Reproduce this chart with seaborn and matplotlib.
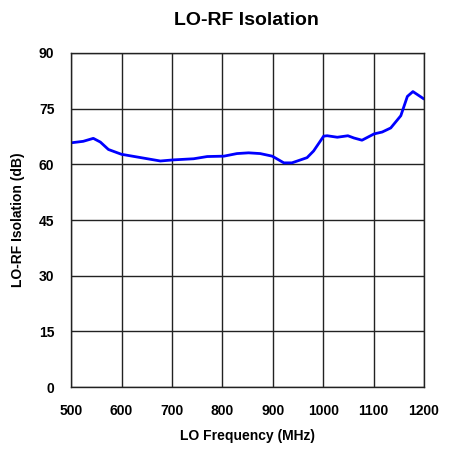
import matplotlib
matplotlib.use("Agg")
import matplotlib.pyplot as plt
import seaborn as sns
import pandas as pd

freq_mhz = [500, 524, 544, 558, 574, 600, 630, 677, 703, 743, 770, 803, 829, 852, 875,
            899, 922, 938, 968, 981, 1001, 1008, 1028, 1049, 1061, 1077, 1101, 1117,
            1134, 1154, 1167, 1178, 1200]
isolation_db = [65.8, 66.2, 67.0, 66.0, 64.0, 62.7, 62.0, 60.9, 61.2, 61.5, 62.1, 62.2,
                62.9, 63.1, 62.9, 62.2, 60.4, 60.4, 61.8, 63.6, 67.6, 67.7, 67.3, 67.7,
                67.1, 66.5, 68.2, 68.7, 69.8, 73.1, 78.3, 79.6, 77.6]
x_ticks = [500, 600, 700, 800, 900, 1000, 1100, 1200]
y_ticks = [0, 15, 30, 45, 60, 75, 90]

sns.set_theme(style="white")
plt.rcParams['font.family'] = ['Liberation Sans', 'DejaVu Sans']
plt.rcParams['text.color'] = 'black'
plt.rcParams['axes.labelcolor'] = 'black'
plt.rcParams['xtick.color'] = 'black'
plt.rcParams['ytick.color'] = 'black'

df = pd.DataFrame({"freq": freq_mhz, "iso": isolation_db})

fig = plt.figure(figsize=(4.53, 4.49), dpi=100)
ax = fig.add_axes([0.157, 0.138, 0.779, 0.744])
sns.lineplot(data=df, x="freq", y="iso", ax=ax, color="#0000FF", linewidth=2.0)

ax.set_xlim(500, 1200)
ax.set_ylim(0, 90)
ax.set_xticks(x_ticks)
ax.set_yticks(y_ticks)
ax.set_xticklabels([str(v) for v in x_ticks], fontsize=10, fontweight="bold")
ax.set_yticklabels([str(v) for v in y_ticks], fontsize=10, fontweight="bold")
ax.tick_params(axis="both", length=0, pad=12)
ax.grid(True, color="#222222", linewidth=1.0)
for s in ax.spines.values():
    s.set_color("#222222")
    s.set_linewidth(1.0)

ax.set_xlabel("LO Frequency (MHz)", fontsize=10, fontweight="bold", labelpad=8)
ax.set_ylabel("LO-RF Isolation (dB)", fontsize=10, fontweight="bold", labelpad=10)
fig.text(0.545, 0.955, "LO-RF Isolation", ha="center", va="center",
         fontsize=14, fontweight="bold")

fig.savefig("out.png", dpi=100)
